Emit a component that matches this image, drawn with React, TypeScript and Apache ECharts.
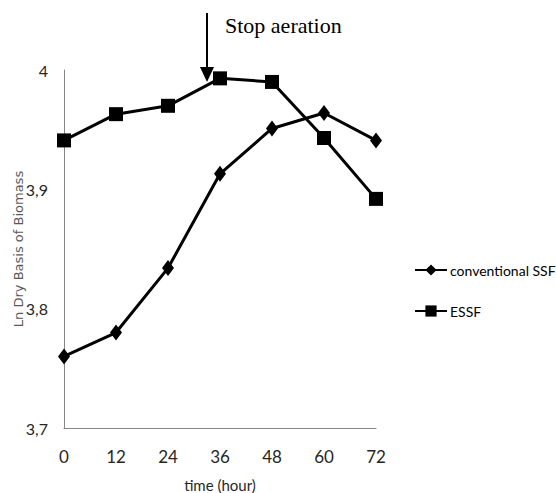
import React, { useEffect, useRef } from "react";
import * as echarts from "echarts";

const hours = [0, 12, 24, 36, 48, 60, 72];
const conventionalSSF = [3.76, 3.78, 3.834, 3.913, 3.951, 3.964, 3.941];
const essf = [3.941, 3.963, 3.97, 3.993, 3.99, 3.943, 3.892];
const yTicks = [3.7, 3.8, 3.9, 4.0];

const narrow = "Lato, 'Liberation Sans', sans-serif";

export default function App() {
  const ref = useRef<HTMLDivElement>(null);
  useEffect(() => {
    if (!ref.current) return;
    const chart = echarts.init(ref.current, undefined, { renderer: "svg" });
    chart.setOption({
      animation: false,
      backgroundColor: "#ffffff",
      grid: {
        left: 64,
        top: 70,
        right: 180,
        bottom: 65,
        containLabel: false,
        outerBoundsMode: "none",
      },
      xAxis: {
        type: "value",
        min: 0,
        max: 72,
        interval: 12,
        name: "time (hour)",
        nameLocation: "middle",
        nameGap: 49,
        nameMoveOverlap: false,
        nameTextStyle: { fontFamily: narrow, fontSize: 15, color: "#262626" },
        axisLine: { show: true, lineStyle: { color: "#868686", width: 1 } },
        axisTick: { show: false },
        splitLine: { show: false },
        axisLabel: { fontFamily: narrow, fontSize: 17, color: "#262626", margin: 20 },
      },
      yAxis: {
        type: "value",
        min: yTicks[0],
        max: yTicks[yTicks.length - 1],
        interval: 0.1,
        name: "Ln Dry Basis of Biomass",
        nameLocation: "middle",
        nameGap: 39,
        nameMoveOverlap: false,
        nameTextStyle: { fontFamily: "'DejaVu Sans', sans-serif", fontSize: 13, color: "#595959" },
        axisLine: { show: true, lineStyle: { color: "#868686", width: 1 } },
        axisTick: { show: false },
        splitLine: { show: false },
        axisLabel: {
          fontFamily: narrow,
          fontSize: 16,
          color: "#262626",
          margin: 16,
          formatter: (v: number) => String(Math.round(v * 10) / 10).replace(".", ","),
        },
      },
      legend: {
        orient: "vertical",
        left: 409,
        top: 258,
        itemWidth: 32,
        itemHeight: 14,
        itemGap: 27,
        textStyle: { fontFamily: narrow, fontSize: 14, color: "#000000", padding: [0, 0, 0, -2] },
        data: ["conventional SSF", "ESSF"],
      },
      series: [
        {
          name: "conventional SSF",
          type: "line",
          data: hours.map((h, i) => [h, conventionalSSF[i]]),
          symbol: "diamond",
          symbolSize: [12, 16],
          lineStyle: { color: "#000000", width: 3 },
          itemStyle: { color: "#000000" },
        },
        {
          name: "ESSF",
          type: "line",
          data: hours.map((h, i) => [h, essf[i]]),
          symbol: "rect",
          symbolSize: 14,
          lineStyle: { color: "#000000", width: 3 },
          itemStyle: { color: "#000000" },
        },
      ],
      graphic: [
        {
          type: "line",
          shape: { x1: 207, y1: 13, x2: 207, y2: 70 },
          style: { stroke: "#000000", lineWidth: 2 },
        },
        {
          type: "polygon",
          shape: { points: [[200, 67], [214, 67], [207, 82]] },
          style: { fill: "#000000" },
        },
        {
          type: "text",
          left: 225,
          top: 14,
          style: {
            text: "Stop aeration",
            font: "22px 'Liberation Serif', 'Times New Roman', serif",
            fill: "#000000",
          },
        },
      ],
    });
    return () => chart.dispose();
  }, []);
  return <div ref={ref} style={{ width: 556, height: 493, position: "absolute", left: 0, top: 0 }} />;
}
